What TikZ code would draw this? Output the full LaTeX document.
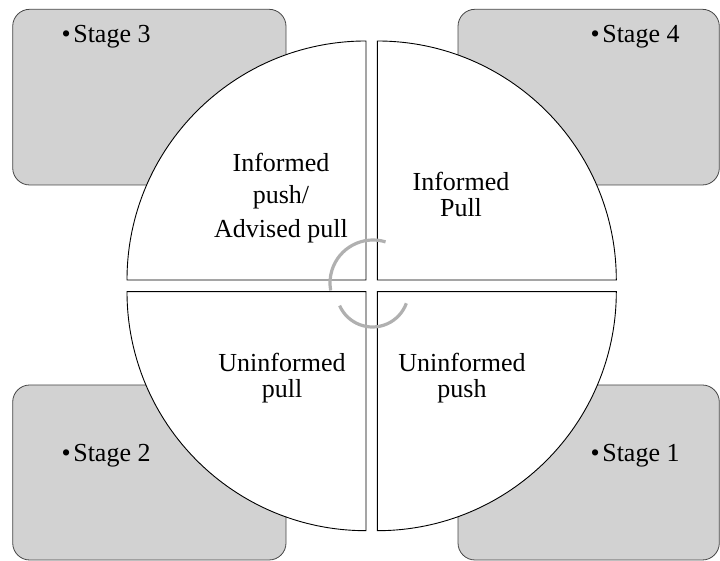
\documentclass[tikz,border=0pt]{standalone}
\usepackage{fontspec}
\setmainfont{Liberation Serif}
\definecolor{boxfill}{RGB}{210,210,210}
\definecolor{boxline}{RGB}{70,70,70}
\definecolor{cyclegray}{RGB}{176,176,176}
\tikzset{
  stagebox/.style={draw=boxline, fill=boxfill, line width=0.8pt, rounded corners=17pt},
  quarter/.style={draw=black, fill=white, line width=0.9pt},
  cyclearc/.style={draw=cyclegray, line width=3.2pt},
  quartertext/.style={inner sep=0pt, align=center, font=\fontsize{26}{26}\selectfont},
  stagetext/.style={inner sep=0pt, anchor=base west, font=\fontsize{26}{26}\selectfont}
}
\begin{document}
\begin{tikzpicture}[x=1pt,y=1pt]
\useasboundingbox (0,0) rectangle (720,561);

% corner boxes
\draw[stagebox] (12.7,376) rectangle (286,551.7);
\draw[stagebox] (458,376) rectangle (719.3,551.7);
\draw[stagebox] (12.7,1) rectangle (286,176);
\draw[stagebox] (458,1) rectangle (719.3,176);

% stage labels
\node[stagetext] (s3) at (61.5,518) {•\hspace{2.5pt}Stage 3};
\node[stagetext] (s4) at (590.5,518) {•\hspace{2.5pt}Stage 4};
\node[stagetext] (s2) at (61.5,99.3) {•\hspace{2.5pt}Stage 2};
\node[stagetext] (s1) at (590.5,99.3) {•\hspace{2.5pt}Stage 1};

% four quarters of the circle
\draw[quarter] (366,281) -- ++(-239,0) arc[start angle=180, end angle=90, radius=239pt] -- cycle;
\draw[quarter] (377.3,281) -- ++(0,239) arc[start angle=90, end angle=0, radius=239pt] -- cycle;
\draw[quarter] (366,269.3) -- ++(0,-239) arc[start angle=270, end angle=180, radius=239pt] -- cycle;
\draw[quarter] (377.3,269.3) -- ++(239,0) arc[start angle=0, end angle=-90, radius=239pt] -- cycle;

% cycle arcs in the middle
\draw[cyclearc] (373,278) ++(73:43pt) arc[start angle=73, end angle=190, radius=43pt];
\draw[cyclearc] (372.5,270) ++(204:36pt) arc[start angle=204, end angle=340, radius=36pt];

% quarter labels
\node[quartertext] (q3) at (281,363) {Informed\\[6pt]push/\\[8pt]Advised pull};
\node[quartertext] (q4) at (461,366.7) {Informed\\Pull};
\node[quartertext] (q2) at (282,183) {Uninformed\\pull};
\node[quartertext] (q1) at (462,183) {Uninformed\\push};
\end{tikzpicture}
\end{document}
